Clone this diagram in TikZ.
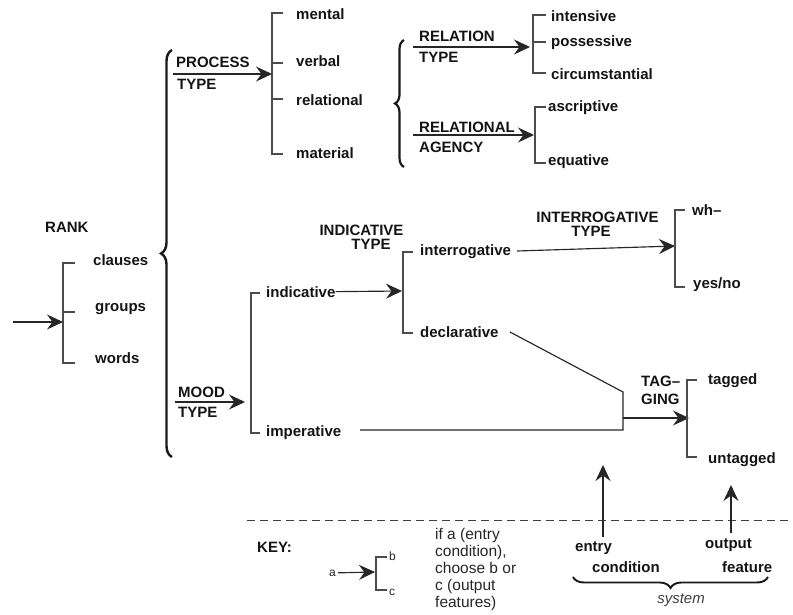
\documentclass[tikz,border=0pt]{standalone}
\usepackage{fontspec}
\setmainfont{Liberation Sans}
\usetikzlibrary{arrows.meta,decorations.pathreplacing}
\begin{document}
\begin{tikzpicture}[x=1pt,y=-1pt,
  lab/.style={font=\bfseries\fontsize{15}{14}\selectfont, inner sep=0pt, anchor=base west, text=black!92},
  keytext/.style={font=\fontsize{15.5}{17}\selectfont, inner sep=0pt, anchor=north west, align=left, text=black!85},
  smalllab/.style={font=\fontsize{12}{14}\selectfont, inner sep=0pt, anchor=base west, text=black!85},
  conn/.style={line width=1.15pt, draw=black!85},
  choice/.style={conn, -{Stealth[length=16pt,width=15pt,inset=5.5pt]}},
  brk/.style={line width=1.1pt, draw=black!70},
  bigbrace/.style={decorate, decoration={brace, amplitude=#1}, line width=2.4pt, draw=black!90},
]
\useasboundingbox (0,0) rectangle (793,615);

% ---------- RANK system ----------
\node[lab] (rank) at (45,233) {RANK};
\node[lab] (clauses) at (93,265) {clauses};
\node[lab] (groups) at (95,311) {groups};
\node[lab] (words) at (95,363) {words};
\coordinate (rankTop) at (63,263);
\coordinate (rankMid) at (63,312);
\coordinate (rankBot) at (63,363);
\coordinate (rankIn) at (63,322);
\coordinate (entry) at (13,322);
\draw[brk] ([xshift=12pt]rankTop) -- (rankTop) -- (rankBot) -- ([xshift=12pt]rankBot);
\draw[brk] (rankMid) -- ([xshift=12pt]rankMid);
\draw[choice] (entry) -- (rankIn);

% simultaneous systems entered from "clauses"
\coordinate (bigBraceTop) at (172,50);
\coordinate (bigBraceBot) at (172,457);
\draw[bigbrace=11pt] (bigBraceBot) -- (bigBraceTop);

% ---------- PROCESS TYPE ----------
\node[lab] (process) at (176,68) {PROCESS};
\node[lab] (ptype) at (177,90) {TYPE};
\coordinate (ptStart) at (173,74);
\coordinate (ptEnd) at (272,74);
\draw[choice] (ptStart) -- (ptEnd);
\coordinate (procTop) at (272,13);
\coordinate (procVerb) at (272,63);
\coordinate (procRel) at (272,99);
\coordinate (procBot) at (272,154);
\draw[brk] ([xshift=11pt]procTop) -- (procTop) -- (procBot) -- ([xshift=11pt]procBot);
\draw[brk] (procVerb) -- ([xshift=11pt]procVerb) (procRel) -- ([xshift=11pt]procRel);
\node[lab] (mental) at (296,20) {mental};
\node[lab] (verbal) at (296,67) {verbal};
\node[lab] (relational) at (296,106) {relational};
\node[lab] (material) at (296,159) {material};

% relational: two simultaneous systems
\coordinate (relBraceTop) at (404,40);
\coordinate (relBraceBot) at (404,167);
\draw[bigbrace=9pt, line width=2.2pt] (relBraceBot) -- (relBraceTop);

% ---------- RELATION TYPE ----------
\node[lab] (relation) at (419,42) {RELATION};
\node[lab] (rtype) at (419,63) {TYPE};
\coordinate (rtStart) at (413,47);
\coordinate (rtEnd) at (530,47);
\draw[choice] (rtStart) -- (rtEnd);
\coordinate (rtTop) at (533,15);
\coordinate (rtMid) at (533,42);
\coordinate (rtBot) at (533,73);
\draw[brk] ([xshift=13pt]rtTop) -- (rtTop) -- (rtBot) -- ([xshift=13pt]rtBot);
\draw[brk] (rtMid) -- ([xshift=13pt]rtMid);
\node[lab] (intensive) at (551,22) {intensive};
\node[lab] (possessive) at (551,47) {possessive};
\node[lab] (circumstantial) at (551,80) {circumstantial};

% ---------- RELATIONAL AGENCY ----------
\node[lab] (relag) at (419,133) {RELATIONAL};
\node[lab] (agency) at (419,153) {AGENCY};
\coordinate (raStart) at (413,135);
\coordinate (raEnd) at (534,135);
\draw[choice] (raStart) -- (raEnd);
\coordinate (raTop) at (535,107);
\coordinate (raBot) at (535,163);
\draw[brk] ([xshift=11pt]raTop) -- (raTop) -- (raBot) -- ([xshift=11pt]raBot);
\node[lab] (ascriptive) at (548,112) {ascriptive};
\node[lab] (equative) at (548,166) {equative};

% ---------- MOOD TYPE ----------
\node[lab] (mood) at (178,397) {MOOD};
\node[lab] (mtype) at (178,417) {TYPE};
\coordinate (mtStart) at (175,402);
\coordinate (mtEnd) at (245,402);
\draw[choice] (mtStart) -- (mtEnd);
\coordinate (moodTop) at (251,293);
\coordinate (moodBot) at (251,433);
\draw[brk] ([xshift=9pt]moodTop) -- (moodTop) -- (moodBot) -- ([xshift=9pt]moodBot);
\node[lab] (indicative) at (266,297) {indicative};
\node[lab] (imperative) at (266,436) {imperative};

% ---------- INDICATIVE TYPE ----------
\node[lab, anchor=north, align=center] (indtype) at (361.5,225) {INDICATIVE\\\hspace*{19pt}TYPE};
\coordinate (itIn) at (402,291);
\draw[choice] (indicative.east) -- (itIn);
\coordinate (itTop) at (403,252);
\coordinate (itBot) at (403,333);
\draw[brk] ([xshift=10pt]itTop) -- (itTop) -- (itBot) -- ([xshift=10pt]itBot);
\node[lab] (interrogative) at (420,255) {interrogative};
\node[lab] (declarative) at (420,337) {declarative};

% ---------- INTERROGATIVE TYPE ----------
\node[lab, anchor=north, align=center] (inttype) at (597.5,212) {INTERROGATIVE\\\hspace*{-13pt}TYPE};
\coordinate (iqStart) at (517,251);
\coordinate (iqEnd) at (675,246);
\draw[choice] (iqStart) -- (iqEnd);
\coordinate (iqTop) at (675,210);
\coordinate (iqBot) at (675,287);
\draw[brk] ([xshift=10pt]iqTop) -- (iqTop) -- (iqBot) -- ([xshift=10pt]iqBot);
\node[lab] (wh) at (692,215) {wh–};
\node[lab] (yesno) at (693,288) {yes/no};

% ---------- TAGGING (entered from declarative or imperative) ----------
\coordinate (declOut) at (510,332);
\coordinate (joinTop) at (623,392);
\coordinate (joinBot) at (623,430);
\coordinate (impOut) at (360,430);
\draw[conn] (declOut) -- (joinTop) -- (joinBot) -- (impOut);
\coordinate (tgStart) at (623,418);
\coordinate (tgEnd) at (689,418);
\draw[choice] (tgStart) -- (tgEnd);
\node[lab, anchor=north west, align=left, font=\bfseries\fontsize{15}{18}\selectfont] (tagging) at (641,376) {TAG–\\GING};
\coordinate (tgTop) at (687,380);
\coordinate (tgBot) at (687,457);
\draw[brk] ([xshift=10pt]tgTop) -- (tgTop) -- (tgBot) -- ([xshift=10pt]tgBot);
\node[lab] (tagged) at (708,384) {tagged};
\node[lab] (untagged) at (708,463) {untagged};

% ---------- KEY ----------
\coordinate (keyL) at (247,520);
\coordinate (keyR) at (793,520);
\draw[line width=1pt, draw=black!75, dash pattern=on 8pt off 5pt] (keyL) -- (keyR);
\node[lab] (key) at (257,552) {KEY:};
\node[smalllab] (ka) at (329,576) {a};
\coordinate (kaIn) at (375,572);
\draw[choice] (ka.east) ++(2pt,0) coordinate (kaOut) (kaOut) -- (kaIn);
\coordinate (kTop) at (376,557);
\coordinate (kBot) at (376,590);
\draw[brk] ([xshift=11pt]kTop) -- (kTop) -- (kBot) -- ([xshift=11pt]kBot);
\node[smalllab] (kb) at (389,560) {b};
\node[smalllab] (kc) at (389,595) {c};
\node[keytext] (keydesc) at (435,528.5) {if a (entry\\condition),\\choose b or\\c (output\\features)};

% ---------- system anatomy ----------
\node[lab] (entrylab) at (575,551) {entry};
\node[lab] (condlab) at (592,572) {condition};
\node[lab] (outlab) at (705,548) {output};
\node[lab] (featlab) at (722,572) {feature};
\coordinate (ecFrom) at (603,537);
\coordinate (ecTo) at (603,465);
\draw[choice] (ecFrom) -- (ecTo);
\coordinate (ofFrom) at (731,533);
\coordinate (ofTo) at (731,485);
\draw[choice] (ofFrom) -- (ofTo);
\coordinate (sysR) at (768,577);
\coordinate (sysL) at (573,577);
\draw[bigbrace=11pt, line width=1.9pt] (sysR) -- (sysL);
\node[font=\itshape\fontsize{15}{16}\selectfont, inner sep=0pt, anchor=base, text=black!75] (system) at (681,603) {system};

\end{tikzpicture}
\end{document}
